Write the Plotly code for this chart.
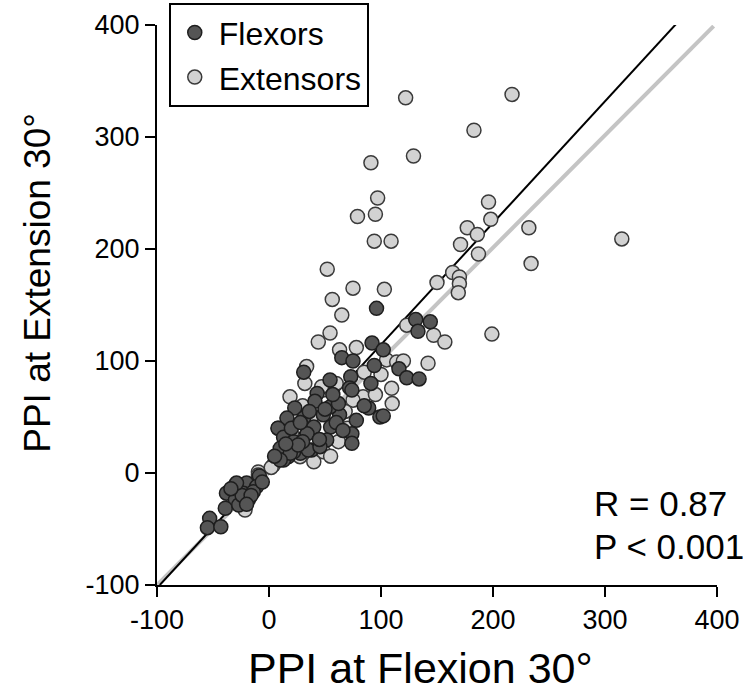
import plotly.graph_objects as go

# ---- data ----
flex_x = [96, 131, 144, 133, 92, 102, 65, 75, 94, 116, 123, 134, 73, 91, 54.5, 72,
          31, 74, 43, 41, 89, 99, 102, 63, 78, 54.5, 48.5, 50, 23, 16, 31, 40, 55, 8,
          13, 22, 34, 51.5, 74, 74, 11, 17, 28, 38, 10, 22, 35, 45.5, 13, 19, 10,
          20, 28, 36, 60, 45, 62, 30, 57, 66, 26, 5, 15, 85,
          -8.6, -20, -30, -11, -38, -23, -14, -30, -18.5, -39, -27, -53, -55, -43, -24, -29,
          -16, -34, -20, -6]
flex_y = [147, 137, 135, 126.5, 116, 110, 103, 100, 96, 93, 85, 84, 86, 80, 83, 76,
          90, 74, 71, 64, 58, 50, 51, 52, 47, 59, 52, 57, 58, 49, 49, 41, 41, 40,
          32, 28, 35, 29.5, 35, 26.5, 20.5, 14.6, 17.6, 20.5, 22, 19, 20.5, 23.5, 11.6, 17.6, 11.6,
          40, 45, 55, 45, 30, 62, 28, 70, 38, 25, 15, 26, 60,
          -2.7, -9, -10.7, -12, -18, -18, -16.7, -24, -24, -31.5, -28.6, -40.5, -48.8, -48, -20, -9,
          -20, -14, -28, -8]

ext_x = [122, 217, 183, 129, 91, 97, 79, 95, 196, 198, 177, 186, 171, 232, 94, 109,
         187, 234, 52, 164, 170, 170, 169, 150, 75, 103, 56.5, 65, 315, 199, 54.5, 44,
         123, 147, 157, 142, 78, 63, 109.5, 105, 114, 33.6, 32, 48.5, 18.75, 84, 75, 47,
         8.3, 62, 48.5, 6.8, 27.7, 3.8, -9.5, -9.5, -21.4,
         25, 40, 55, 30, 60, 95, 120, 70, 85, 15, 38, 68, 100, 110, 2, -15, -25, 20]
ext_y = [335, 338, 306, 283, 277, 245.5, 229, 231, 242, 226.5, 219, 213, 204, 219, 207, 207,
         195.5, 187, 182, 179, 175, 169, 161, 170, 165, 164, 155, 141, 209, 124, 125, 117,
         132, 123, 117, 98, 112, 110, 75.6, 101, 99, 95, 80, 74, 68, 68, 65, 77,
         40, 28, 19, 11.6, 14.6, 7, 1, -1.8, -33,
         25, 10, 15, 60, 80, 70, 100, 40, 90, 30, 50, 55, 88, 62, 5, -10, -22, 35]

# regression lines (end points)
flex_line_x = [-97.5, 364.5]
flex_line_y = [-100, 402]
ext_line_x = [-100, 397]
ext_line_y = [-100, 399]

x_ticks = [-100, 0, 100, 200, 300, 400]
y_ticks = [-100, 0, 100, 200, 300, 400]
stats_text = ["R = 0.87", "P < 0.001"]

FONT = "Liberation Sans, Arial, Helvetica, sans-serif"

fig = go.Figure()
fig.add_trace(go.Scatter(x=ext_line_x, y=ext_line_y, mode="lines", cliponaxis=False,
                         line=dict(color="#c4c4c4", width=4), showlegend=False, hoverinfo="skip"))
fig.add_trace(go.Scatter(x=flex_line_x, y=flex_line_y, mode="lines", cliponaxis=False,
                         line=dict(color="#000000", width=2), showlegend=False, hoverinfo="skip"))
fig.add_trace(go.Scatter(x=ext_x, y=ext_y, mode="markers", name="Extensors",
                         marker=dict(size=14, color="#d2d2d2", line=dict(color="#3a3a3a", width=1.5))))
fig.add_trace(go.Scatter(x=flex_x, y=flex_y, mode="markers", name="Flexors",
                         marker=dict(size=14, color="#555555", line=dict(color="#1e1e1e", width=1.5))))

axis_common = dict(showgrid=False, zeroline=False, showline=True, linecolor="black", linewidth=2,
                   ticks="outside", ticklen=10, tickwidth=2, tickcolor="black",
                   tickfont=dict(family=FONT, size=27, color="black"))

fig.update_layout(
    width=743, height=694,
    margin=dict(l=157, r=26, t=25, b=109, autoexpand=False),
    paper_bgcolor="white", plot_bgcolor="white",
    font=dict(family=FONT, color="black"),
    xaxis=dict(range=[-100, 400], tickvals=x_ticks, ticktext=[str(v) for v in x_ticks], **axis_common),
    yaxis=dict(range=[-100, 400], tickvals=y_ticks, ticktext=[str(v) for v in y_ticks], **axis_common),
    legend=dict(x=0.021, y=1.039, xanchor="left", yanchor="top", traceorder="reversed",
                bordercolor="black", borderwidth=2, bgcolor="white", itemwidth=38,
                font=dict(family=FONT, size=32, color="black")),
    showlegend=True,
)

fig.add_annotation(text="PPI at Flexion 30°", xref="paper", yref="paper", x=0.471, y=-0.148,
                   xanchor="center", yanchor="middle", showarrow=False,
                   font=dict(family=FONT, size=43, color="black"))
fig.add_annotation(text="PPI at Extension 30°", xref="paper", yref="paper", x=-0.214, y=0.54,
                   xanchor="center", yanchor="middle", textangle=-90, showarrow=False,
                   font=dict(family=FONT, size=37, color="black"))
fig.add_annotation(text=stats_text[0], xref="paper", yref="paper", x=0.777, y=0.146,
                   xanchor="left", yanchor="middle", showarrow=False,
                   font=dict(family=FONT, size=35, color="black"))
fig.add_annotation(text=stats_text[1], xref="paper", yref="paper", x=0.777, y=0.068,
                   xanchor="left", yanchor="middle", showarrow=False,
                   font=dict(family=FONT, size=35, color="black"))

fig.write_html("out.html")
